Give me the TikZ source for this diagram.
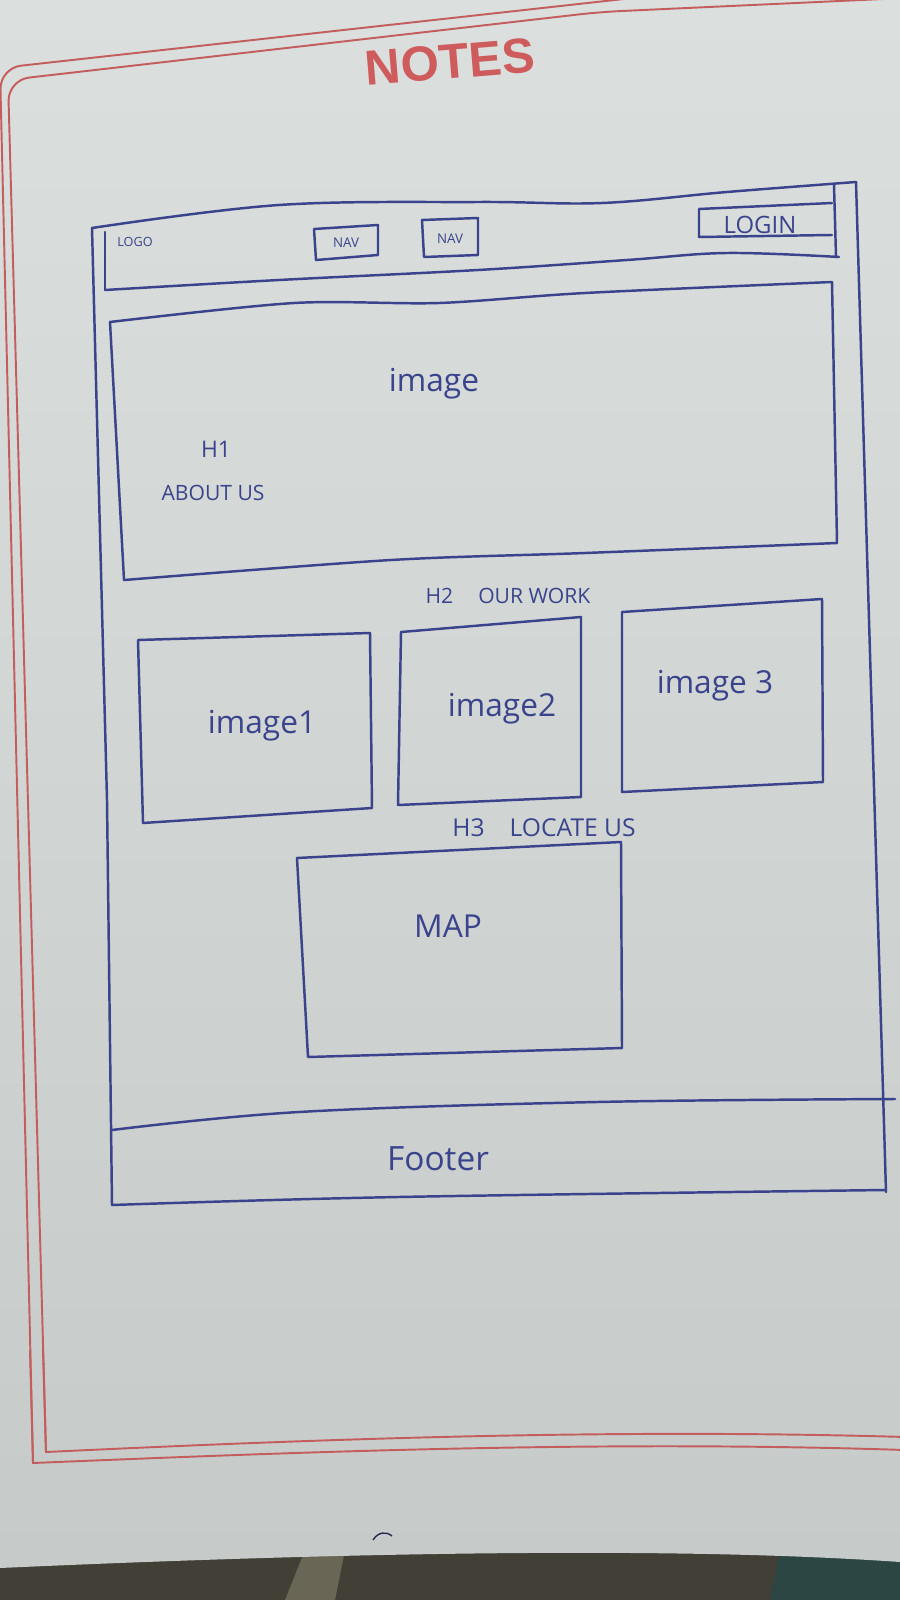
\documentclass[tikz,border=0pt]{standalone}
\usepackage{fontspec}
\newfontfamily\handfont{Open Sans}
\newfontfamily\stampfont{Liberation Sans}

\definecolor{paperTop}{RGB}{219,223,222}
\definecolor{paperBot}{RGB}{198,202,201}
\definecolor{inkblue}{RGB}{58,68,140}
\definecolor{rulered}{RGB}{196,94,94}
\definecolor{stampred}{RGB}{206,92,92}
\definecolor{cloth}{RGB}{66,64,54}
\definecolor{clothlight}{RGB}{140,135,112}
\definecolor{clothteal}{RGB}{44,70,68}

\tikzset{
  pen/.style={draw=inkblue, line width=0.7pt, line join=round, line cap=round},
  redrule/.style={draw=rulered, line width=0.55pt},
  hand/.style={text=inkblue, inner sep=0pt, anchor=base},
}
\newcommand{\handsz}[1]{\handfont\fontsize{#1}{#1}\selectfont}

\begin{document}
\begin{tikzpicture}[x=0.01cm,y=-0.01cm]
\useasboundingbox (0,0) rectangle (900,1600);
\clip (0,0) rectangle (900,1600);

% cloth under the notebook
\fill[cloth] (0,1530) rectangle (900,1600);
\fill[clothlight, opacity=.55] (285,1600) -- (305,1550) -- (345,1550) -- (335,1600) -- cycle;
\fill[clothteal] (770,1600) -- (780,1550) -- (900,1550) -- (900,1600) -- cycle;

% paper sheet
\shade[top color=paperTop, bottom color=paperBot]
  (0,0) -- (900,0) -- (900,1562) .. controls (700,1548) and (400,1550) .. (0,1568) -- cycle;

% printed double border: rounded top-left corner, square bottom-left corner
\draw[redrule, rounded corners=6pt] (660,-5) -- (0,68) -- (33,1463);
\draw[redrule, line join=miter] (30,1350) -- (33,1463) .. controls (300,1452) and (600,1440) .. (905,1450);
\draw[redrule, rounded corners=6pt] (905,-2) -- (600,12) -- (8,80) -- (46,1452);
\draw[redrule, line join=miter] (43,1350) -- (46,1452) .. controls (300,1440) and (600,1428) .. (905,1437);

\node[text=stampred, rotate=4.7, inner sep=0pt] (notes) at (450,62)
  {\stampfont\bfseries\fontsize{14}{16}\selectfont NOTES};

% page frame
\draw[pen] plot[smooth, tension=.6] coordinates {(92,228) (279,205) (478,202) (602,203) (727,192) (856,182)};
\draw[pen] (92,228) -- (107,800) -- (112,1205);
\draw[pen] (856,182) -- (886,1192);

% header bar
\draw[pen] (105,232) -- (105,290);
\draw[pen] plot[smooth, tension=.6] coordinates {(105,290) (279,280) (478,270) (627,260) (727,253) (839,257)};
\draw[pen] (834,185) -- (836,257);

\node[hand] (logo) at (135,246) {\handsz{3.6}LOGO};
\draw[pen] (314,229) -- (378,225) -- (378,255) -- (316,260) -- cycle;
\node[hand] (navone) at (346,248) {\handsz{3.8}NAV};
\draw[pen] (422,220) -- (478,218) -- (478,255) -- (424,257) -- cycle;
\node[hand] (navtwo) at (450,244) {\handsz{3.8}NAV};
\draw[pen] (832,203) -- (699,209) -- (699,237) -- (832,235);
\node[hand] (login) at (760,233) {\handsz{6.8}LOGIN};

% hero image
\draw[pen] plot[smooth, tension=.5] coordinates {(110,322) (294,303) (439,303) (585,293) (832,282)};
\draw[pen] (832,282) -- (837,543);
\draw[pen] plot[smooth, tension=.5] coordinates {(837,543) (585,553) (391,560) (124,580)};
\draw[pen] (124,580) -- (110,322);
\node[hand] (heroimg) at (434,391) {\handsz{9}image};
\node[hand] (hone) at (216,457) {\handsz{6.5}H1};
\node[hand] (about) at (213,500) {\handsz{6}ABOUT US};

% our work
\node[hand] (htwo) at (508,603) {\handsz{6}H2\hspace{2.5mm}OUR WORK};
\draw[pen] (138,640) -- (370,633) -- (372,808) -- (143,823) -- cycle;
\node[hand] (imgone) at (262,733) {\handsz{9}image1};
\draw[pen] (401,632) -- (581,617) -- (581,797) -- (398,805) -- cycle;
\node[hand] (imgtwo) at (502,716) {\handsz{9}image2};
\draw[pen] (622,612) -- (822,599) -- (823,782) -- (622,792) -- cycle;
\node[hand] (imgthree) at (715,693) {\handsz{9}image 3};

% locate us
\node[hand] (hthree) at (544,836) {\handsz{7}H3\hspace{2.5mm}LOCATE US};
\draw[pen] (297,858) -- (621,842) -- (622,1048) -- (308,1057) -- cycle;
\node[hand] (map) at (448,937) {\handsz{9}MAP};

% footer
\draw[pen] plot[smooth, tension=.6] coordinates {(112,1130) (299,1112) (597,1102) (895,1099)};
\draw[pen] plot[smooth, tension=.6] coordinates {(112,1205) (398,1197) (886,1190)};
\node[hand] (footer) at (438,1170) {\handsz{9.5}Footer};

% stray pen mark
\draw[draw=inkblue!60!black, line width=0.4pt] (373,1540) .. controls (378,1532) and (386,1531) .. (392,1536);
\end{tikzpicture}
\end{document}
